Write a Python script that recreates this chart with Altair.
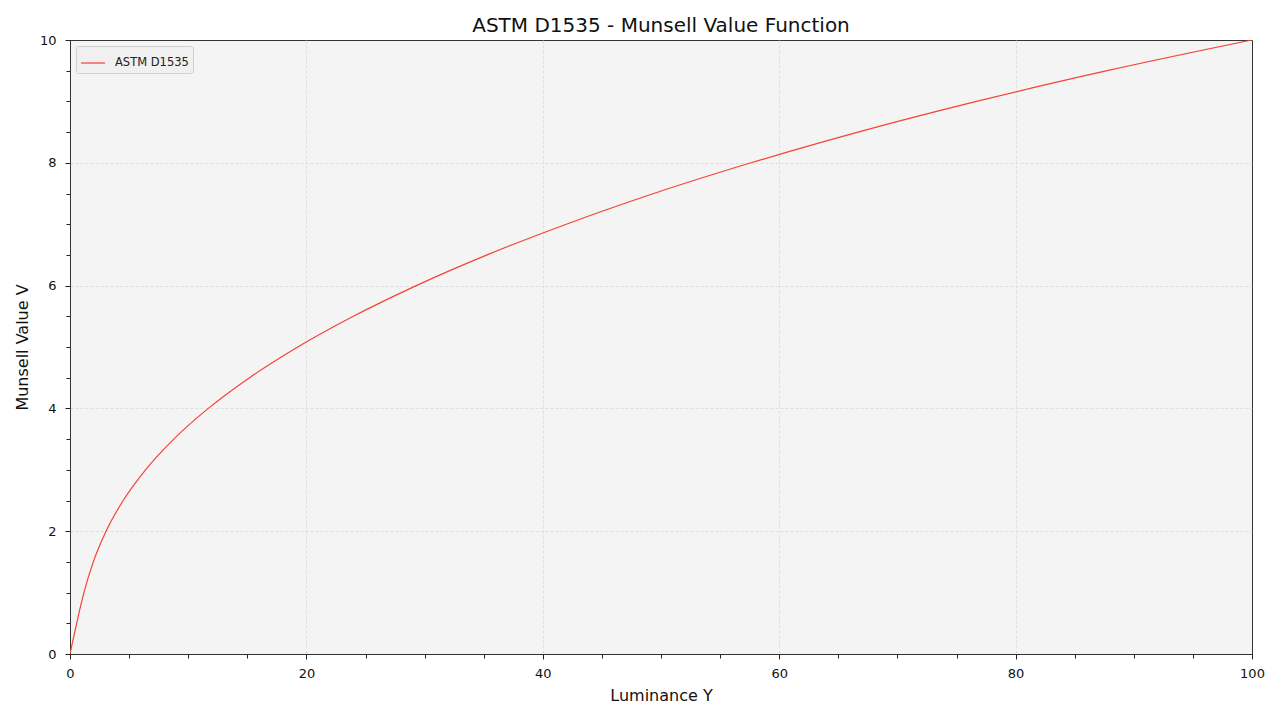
import altair as alt
import pandas as pd

# Values (Luminance Y -> Munsell Value V)
luminance_y = [0, 0.28, 0.57, 0.86, 1.18, 1.97, 3.05, 4.50, 6.39, 8.78, 11.70, 15.19,
               19.27, 23.97, 29.30, 35.29, 41.99, 49.39, 57.62, 66.67, 76.69, 87.75, 100]
munsell_v = [0, 0.25, 0.5, 0.75, 1, 1.5, 2, 2.5, 3, 3.5, 4, 4.5,
             5, 5.5, 6, 6.5, 7, 7.5, 8, 8.5, 9, 9.5, 10]
series_name = ["ASTM D1535"] * len(luminance_y)

x_major = [0, 20, 40, 60, 80, 100]
x_grid = [20, 40, 60, 80]
x_minor = list(range(0, 101, 5))
y_major = [0, 2, 4, 6, 8, 10]
y_grid = [2, 4, 6, 8]
y_minor = [i / 2 for i in range(0, 21)]

df = pd.DataFrame({"Y": luminance_y, "V": munsell_v, "series": series_name})

FONT = "DejaVu Sans"
RED = "#F44336"

xs = alt.Scale(domain=[0, 100], nice=False, zero=False)
ys = alt.Scale(domain=[0, 10], nice=False, zero=False)

grid = alt.Chart(df).mark_line(opacity=0).encode(
    x=alt.X("Y:Q", scale=xs, title=None,
            axis=alt.Axis(values=x_grid, orient="bottom", labels=False, grid=True,
                          domain=False, ticks=False, title=None)),
    y=alt.Y("V:Q", scale=ys, title=None,
            axis=alt.Axis(values=y_grid, orient="left", labels=False, grid=True,
                          domain=False, ticks=False, title=None)),
)

minor = alt.Chart(df).mark_line(opacity=0).encode(
    x=alt.X("Y:Q", scale=xs, title=None,
            axis=alt.Axis(values=x_minor, orient="bottom", labels=False, grid=False,
                          domain=False, tickSize=4, title=None)),
    y=alt.Y("V:Q", scale=ys, title=None,
            axis=alt.Axis(values=y_minor, orient="left", labels=False, grid=False,
                          domain=False, tickSize=4, title=None)),
)

main = alt.Chart(df).mark_line(strokeWidth=1.2, interpolate="monotone", clip=True).encode(
    x=alt.X("Y:Q", scale=xs, title="Luminance Y",
            axis=alt.Axis(values=x_major, orient="bottom", format="d", tickSize=5,
                          labelPadding=8, titlePadding=7, grid=False)),
    y=alt.Y("V:Q", scale=ys, title="Munsell Value V",
            axis=alt.Axis(values=y_major, orient="left", format="d", tickSize=5,
                          labelPadding=9, titlePadding=9, grid=False)),
    color=alt.Color("series:N", scale=alt.Scale(range=[RED]),
                    legend=alt.Legend(title=None, orient="top-left", offset=6,
                                      symbolType="stroke", symbolSize=576,
                                      symbolStrokeWidth=1.2,
                                      fillColor="#F0F0F0", strokeColor="#D0D0D0",
                                      padding=4, labelFontSize=11.5, labelFont=FONT,
                                      labelColor="#222222", labelOffset=9,
                                      cornerRadius=2)),
)

chart = alt.layer(grid, minor, main).resolve_axis(x="independent", y="independent").properties(
    width=1182, height=614,
    title=alt.TitleParams("ASTM D1535 - Munsell Value Function", fontSize=20,
                          font=FONT, fontWeight="normal", color="#111111",
                          anchor="middle", offset=-2),
    autosize=alt.AutoSizeParams(type="none"),
    padding={"left": 62, "top": 32, "right": 20, "bottom": 64},
    background="white",
).configure_view(
    fill="#F4F4F4", stroke="#333333", strokeWidth=1
).configure_axis(
    labelFont=FONT, titleFont=FONT, labelFontSize=13, titleFontSize=16,
    titleFontWeight="normal", labelColor="#111111", titleColor="#111111",
    domainColor="#333333", domainWidth=1, tickColor="#222222", tickWidth=1,
    gridColor="#D8D8D8", gridDash=[3, 2], gridWidth=0.8, labelFlush=False,
)

chart.save("out.html", embed_options={"renderer": "svg", "actions": False})
